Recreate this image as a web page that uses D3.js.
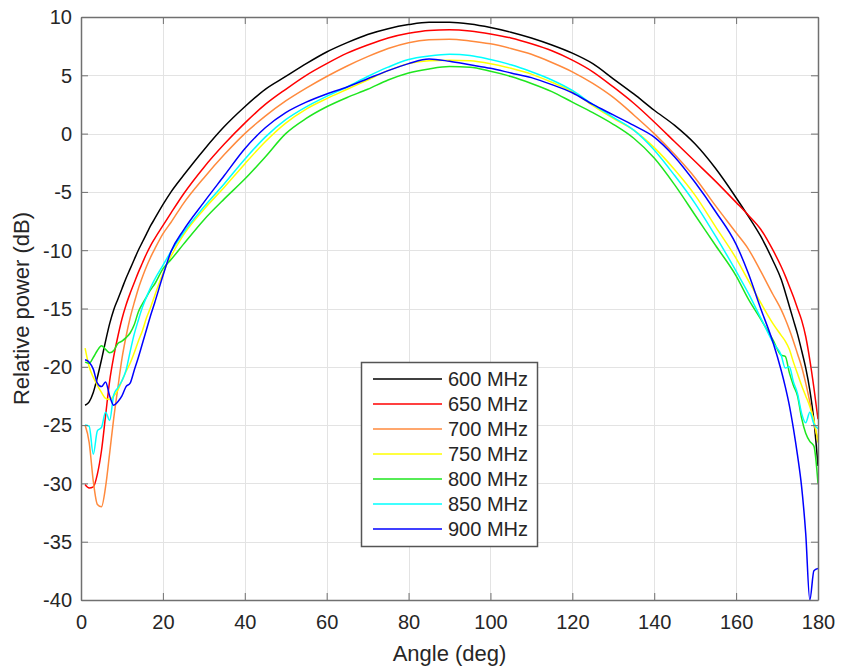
<!DOCTYPE html>
<html>
<head>
<meta charset="utf-8">
<script src="https://cdn.jsdelivr.net/npm/d3@7"></script>
<style>
  html, body { margin: 0; padding: 0; background: #fff; }
  svg { display: block; }
  text { font-family: "Liberation Sans", Arial, Helvetica, sans-serif; fill: #262626; }
</style>
</head>
<body>
<svg id="chart" width="841" height="668"></svg>
<script>
// ---- Data ----
const angles = [1,2,3,4,5,6,7,8,9,10,11,12,13,14,15,16,17,18,20,22,25,30,35,40,45,50,55,60,65,70,75,80,85,90,95,100,105,110,115,120,125,130,135,140,145,150,155,160,163,166,169,171,172,173,174,175,176,177,178,179,180];

const p600 = [-23.3,-23.0,-22.2,-20.9,-19.4,-17.8,-16.3,-15.1,-14.2,-13.3,-12.4,-11.6,-10.8,-10.0,-9.3,-8.6,-7.9,-7.3,-6.1,-5.0,-3.6,-1.4,0.6,2.3,3.8,4.9,6.0,7.0,7.8,8.5,9.0,9.35,9.55,9.55,9.4,9.1,8.7,8.2,7.6,6.9,6.0,4.7,3.4,2.0,0.7,-0.9,-3.0,-5.5,-7.1,-8.8,-10.9,-12.5,-13.6,-14.8,-16.0,-17.2,-18.6,-20.1,-22.0,-24.6,-28.5];

const p650 = [-30.1,-30.4,-30.3,-29.2,-27.2,-24.2,-21.2,-19.1,-17.4,-15.9,-14.7,-13.7,-12.8,-11.9,-11.1,-10.3,-9.6,-9.0,-7.9,-6.8,-5.2,-2.9,-0.9,0.9,2.5,3.8,5.0,6.0,6.9,7.6,8.2,8.6,8.85,8.9,8.8,8.55,8.2,7.7,7.1,6.3,5.3,4.0,2.6,1.0,-0.7,-2.4,-4.1,-5.9,-7.0,-8.2,-10.0,-11.4,-12.2,-13.1,-14.0,-15.0,-16.0,-17.4,-19.4,-21.8,-24.5];

const p700 = [-25.0,-26.5,-29.8,-31.8,-32.0,-30.3,-27.4,-24.4,-21.8,-19.3,-17.4,-15.8,-14.5,-13.3,-12.3,-11.4,-10.6,-9.9,-8.6,-7.6,-6.0,-3.8,-1.8,0.0,1.5,2.8,3.9,4.9,5.8,6.6,7.3,7.8,8.05,8.1,7.95,7.7,7.3,6.8,6.1,5.3,4.3,3.1,1.6,0.0,-1.8,-3.8,-6.2,-8.5,-9.9,-11.8,-13.8,-15.1,-15.9,-16.8,-17.8,-18.9,-20.0,-21.4,-23.0,-24.8,-26.3];

const p750 = [-18.4,-20.0,-20.9,-21.6,-22.2,-22.7,-22.8,-22.5,-22.0,-21.2,-20.4,-19.7,-18.8,-17.8,-16.9,-15.8,-14.9,-13.9,-12.0,-10.5,-8.7,-6.5,-4.6,-2.6,-0.7,0.9,2.1,3.0,3.8,4.6,5.4,6.0,6.25,6.3,6.25,6.0,5.6,5.1,4.4,3.6,2.4,1.3,0.3,-1.2,-3.1,-5.3,-8.0,-10.7,-12.6,-14.5,-16.3,-17.3,-17.8,-18.5,-19.6,-20.6,-21.6,-22.5,-23.4,-24.6,-26.5];

const p800 = [-19.6,-19.7,-19.2,-18.6,-18.2,-18.5,-18.8,-18.6,-18.0,-17.8,-17.5,-17.1,-16.4,-15.3,-14.6,-14.0,-13.4,-12.9,-11.6,-10.8,-9.5,-7.4,-5.6,-3.9,-2.0,0.0,1.3,2.3,3.1,3.8,4.6,5.2,5.55,5.75,5.7,5.35,4.9,4.3,3.6,2.7,1.8,0.8,-0.4,-2.1,-4.4,-7.0,-9.6,-12.2,-14.2,-15.9,-17.7,-19.0,-19.1,-20.5,-21.6,-22.5,-24.4,-25.7,-26.4,-26.8,-30.0];

const p850 = [-25.0,-25.1,-27.5,-25.5,-25.2,-23.9,-24.6,-22.4,-21.8,-21.2,-20.3,-18.7,-17.2,-16.0,-14.9,-14.0,-13.2,-12.5,-11.3,-10.1,-8.5,-6.3,-4.3,-2.2,-0.3,1.2,2.3,3.2,4.0,4.9,5.7,6.35,6.65,6.8,6.7,6.35,5.9,5.3,4.6,3.7,2.5,1.4,0.3,-1.4,-3.6,-6.0,-8.8,-11.8,-13.7,-15.8,-17.9,-19.0,-20.1,-20.0,-21.3,-22.3,-24.0,-24.8,-23.9,-24.9,-25.3];

const p900 = [-19.4,-19.6,-20.2,-21.4,-21.7,-21.3,-22.5,-23.3,-23.0,-22.5,-21.7,-21.4,-20.3,-19.2,-18.0,-16.8,-15.6,-14.5,-12.2,-10.1,-8.3,-5.9,-3.6,-1.3,0.5,1.8,2.7,3.4,4.0,4.7,5.4,6.0,6.4,6.2,5.9,5.6,5.2,4.8,4.2,3.5,2.5,1.6,0.7,-0.3,-2.0,-4.2,-6.7,-9.5,-12.0,-15.0,-17.9,-20.3,-21.7,-23.3,-25.3,-27.6,-30.3,-34.3,-40.0,-37.5,-37.3];

const seriesNames = ["600 MHz","650 MHz","700 MHz","750 MHz","800 MHz","850 MHz","900 MHz"];
const seriesValues = [p600, p650, p700, p750, p800, p850, p900];
const seriesColors = ["#000000","#ff0000","#ff8a3d","#ffff00","#1ee61e","#00ffff","#0000ff"];

const xTicks = [0,20,40,60,80,100,120,140,160,180];
const yTicks = [-40,-35,-30,-25,-20,-15,-10,-5,0,5,10];
const xLabel = "Angle (deg)";
const yLabel = "Relative power (dB)";

// ---- Layout ----
const svg = d3.select("#chart");
const L = 81, R = 818, T = 17, B = 600;
const x = d3.scaleLinear().domain([0, 180]).range([L, R]);
const y = d3.scaleLinear().domain([-40, 10]).range([B, T]);

svg.append("rect").attr("width", 841).attr("height", 668).attr("fill", "#fff");

// grid
const grid = svg.append("g").attr("stroke", "#e3e3e3").attr("stroke-width", 1);
grid.selectAll("line.gx").data(xTicks).join("line")
  .attr("x1", d => Math.round(x(d)) + 0.5).attr("x2", d => Math.round(x(d)) + 0.5)
  .attr("y1", T).attr("y2", B);
grid.selectAll("line.gy").data(yTicks).join("line")
  .attr("y1", d => Math.round(y(d)) + 0.5).attr("y2", d => Math.round(y(d)) + 0.5)
  .attr("x1", L).attr("x2", R);

// clip
svg.append("clipPath").attr("id", "plotclip")
  .append("rect").attr("x", L).attr("y", T - 1).attr("width", R - L).attr("height", B - T + 2);

// lines
const line = d3.line()
  .x(d => x(d[0]))
  .y(d => y(d[1]))
  .curve(d3.curveMonotoneX);

const plot = svg.append("g").attr("clip-path", "url(#plotclip)");
seriesValues.forEach((vals, i) => {
  const pts = angles.map((a, j) => [a, vals[j]]);
  plot.append("path")
    .datum(pts)
    .attr("fill", "none")
    .attr("stroke", seriesColors[i])
    .attr("stroke-width", 1.5)
    .attr("stroke-linejoin", "round")
    .attr("d", line);
});

// axes
const fmt = d => String(d);
const axisColor = "#707070";
function styleAxis(g) {
  g.select(".domain").attr("stroke", axisColor).attr("stroke-width", 1.5);
  g.selectAll(".tick line").attr("stroke", axisColor).attr("stroke-width", 1);
  g.selectAll(".tick text").attr("fill", "#262626")
    .style("font-family", '"Liberation Sans", Arial, sans-serif').style("font-size", "20px");
}
const gx = svg.append("g").attr("transform", `translate(0,${B})`)
  .call(d3.axisBottom(x).tickValues(xTicks).tickFormat(fmt).tickSize(-7).tickPadding(15).tickSizeOuter(0));
styleAxis(gx);
const gy = svg.append("g").attr("transform", `translate(${L},0)`)
  .call(d3.axisLeft(y).tickValues(yTicks).tickFormat(fmt).tickSize(-7).tickPadding(9).tickSizeOuter(0));
styleAxis(gy);
gy.selectAll(".tick text").attr("dy", "0.34em");
const gxt = svg.append("g").attr("transform", `translate(0,${T})`)
  .call(d3.axisTop(x).tickValues(xTicks).tickFormat("").tickSize(-7).tickSizeOuter(0));
styleAxis(gxt);
const gyr = svg.append("g").attr("transform", `translate(${R},0)`)
  .call(d3.axisRight(y).tickValues(yTicks).tickFormat("").tickSize(-7).tickSizeOuter(0));
styleAxis(gyr);

// axis labels
svg.append("text")
  .attr("x", (L + R) / 2).attr("y", 661)
  .attr("text-anchor", "middle")
  .style("font-size", "22px")
  .text(xLabel);
svg.append("text")
  .attr("transform", `translate(29,${(T + B) / 2}) rotate(-90)`)
  .attr("text-anchor", "middle")
  .style("font-size", "22px")
  .text(yLabel);

// legend
const lg = svg.append("g");
const lgX = 361.5, lgY = 362.5, lgW = 176, lgH = 184;
lg.append("rect").attr("x", lgX).attr("y", lgY).attr("width", lgW).attr("height", lgH)
  .attr("fill", "#fff").attr("stroke", "#555").attr("stroke-width", 1.5);
const ly = d3.scalePoint().domain(seriesNames).range([379, 529]);
seriesNames.forEach((name, i) => {
  lg.append("line")
    .attr("x1", 373).attr("x2", 442)
    .attr("y1", ly(name)).attr("y2", ly(name))
    .attr("stroke", seriesColors[i]).attr("stroke-width", 1.5);
  lg.append("text")
    .attr("x", 448).attr("y", ly(name)).attr("dy", "0.35em")
    .style("font-size", "20px")
    .text(name);
});
</script>
</body>
</html>
